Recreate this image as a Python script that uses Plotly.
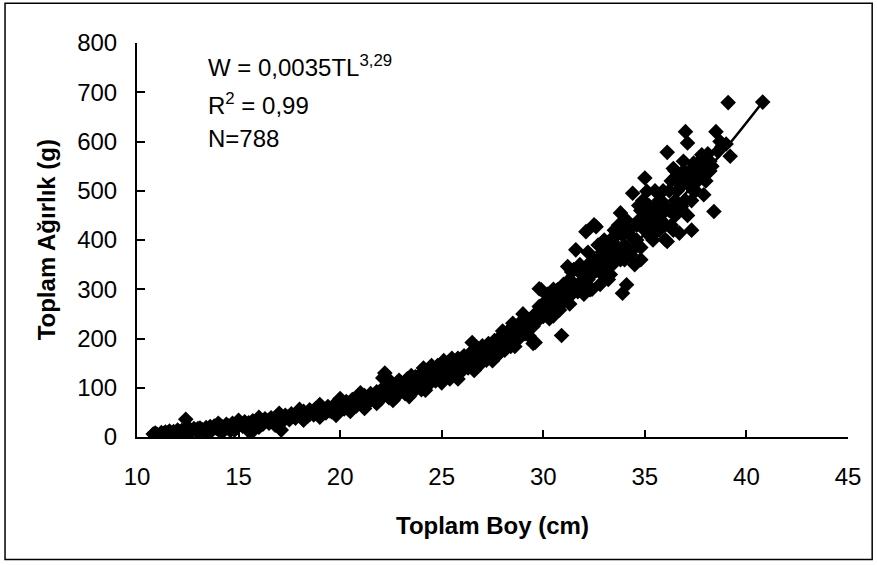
import plotly.graph_objects as go

# Scatter data: total length (cm) and total weight (g)
length_cm = [
    10.8, 10.9, 11.0, 11.1, 11.2, 11.3, 11.4, 11.5, 11.6, 11.7, 11.8, 11.9, 12.0, 12.1, 12.2, 12.3,
    12.4, 12.4, 12.5, 12.6, 12.7, 12.8, 12.9, 13.0, 13.1, 13.2, 13.3, 13.4, 13.5, 13.6, 13.7, 13.8,
    13.9, 14.0, 14.1, 14.2, 14.3, 14.4, 14.5, 14.6, 14.7, 14.8, 14.9, 15.0, 15.1, 15.2, 15.3, 15.4,
    15.5, 15.6, 15.7, 15.8, 15.9, 16.0, 16.1, 16.2, 16.3, 16.4, 16.5, 16.6, 16.7, 16.8, 16.9, 17.0,
    17.1, 17.2, 17.3, 17.4, 17.5, 17.6, 17.7, 17.8, 17.9, 18.0, 18.1, 18.2, 18.3, 18.4, 18.5, 18.6,
    18.7, 18.8, 18.9, 19.0, 19.1, 19.2, 19.3, 19.4, 19.5, 19.6, 19.7, 19.8, 19.9, 20.0, 20.1, 20.2,
    20.3, 20.4, 20.5, 20.6, 20.7, 20.8, 20.9, 21.0, 21.1, 21.2, 21.3, 21.4, 21.5, 21.6, 21.7, 21.8,
    21.9, 22.0, 22.1, 22.2, 22.2, 22.3, 22.4, 22.5, 22.6, 22.7, 22.8, 22.9, 23.0, 23.1, 23.2, 23.3,
    23.4, 23.5, 23.6, 23.7, 23.8, 23.9, 24.0, 24.1, 24.2, 24.3, 24.4, 24.5, 24.6, 24.7, 24.8, 24.9,
    25.0, 25.1, 25.2, 25.3, 25.4, 25.5, 25.6, 25.7, 25.8, 25.9, 26.0, 26.1, 26.2, 26.3, 26.4, 26.5,
    26.5, 26.6, 26.7, 26.8, 26.9, 27.0, 27.1, 27.2, 27.3, 27.4, 27.5, 27.6, 27.7, 27.8, 27.9, 28.0,
    28.1, 28.2, 28.3, 28.4, 28.5, 28.6, 28.6, 28.7, 28.8, 28.9, 29.0, 29.1, 29.2, 29.3, 29.5, 29.6,
    29.6, 29.7, 29.8, 29.9, 29.9, 30.0, 30.1, 30.2, 30.3, 30.4, 30.5, 30.6, 30.7, 30.8, 30.9, 31.0,
    31.1, 31.2, 31.3, 31.4, 31.5, 31.6, 31.7, 31.8, 31.9, 32.0, 32.1, 32.2, 32.3, 32.4, 32.5, 32.6,
    32.6, 32.7, 32.8, 32.9, 33.0, 33.1, 33.2, 33.3, 33.4, 33.5, 33.6, 33.7, 33.8, 33.9, 34.0, 34.1,
    34.2, 34.3, 34.4, 34.5, 34.6, 34.7, 34.8, 34.9, 35.0, 35.1, 35.2, 35.3, 35.4, 35.5, 35.6, 35.7,
    35.8, 35.9, 36.0, 36.1, 36.1, 36.2, 36.3, 36.4, 36.5, 36.6, 36.7, 36.8, 36.9, 37.0, 37.1, 37.2,
    37.3, 37.4, 37.5, 37.6, 37.8, 37.9, 38.0, 38.2, 38.4, 38.5, 38.6, 38.8, 39.0, 39.1, 39.2, 40.8,
    32.0, 32.2, 32.4, 32.8, 33.0, 33.2, 33.4, 33.5, 33.6, 33.8, 34.0, 34.2, 34.4, 34.6, 34.8, 35.0,
    35.2, 35.4, 35.6, 35.8, 36.0, 36.2, 36.4, 36.6, 36.8, 37.0, 37.2, 37.4, 37.6, 37.8, 38.0, 38.2,
    36.5, 34.8, 33.0, 31.0, 31.5, 30.5, 30.0, 29.0, 28.0, 27.0, 25.0, 24.0, 23.0,
    12.0, 12.5, 13.0, 13.5, 14.0, 14.5, 15.0, 15.5, 16.0, 16.5, 17.0, 17.5, 18.0, 18.5, 19.0, 19.5,
    20.0, 20.5, 21.0, 21.5, 22.0, 22.5, 23.0, 23.5, 24.0, 24.5, 25.0, 25.5, 26.0, 26.5, 27.0, 27.5,
    28.0, 28.5, 29.0, 29.5, 30.0, 30.5, 31.0, 31.5, 32.0, 32.5, 33.0, 33.5, 34.0, 34.5, 35.0, 35.5,
    36.0, 36.5, 37.0, 37.5, 38.0,
    29.3, 29.8, 30.2, 30.8, 31.3, 31.8, 32.2, 32.7, 33.3, 33.7, 34.1, 34.4, 34.7, 35.1, 35.5, 35.9,
    36.3, 36.7, 37.1, 37.3, 37.5, 37.7, 38.1, 38.3, 38.7, 36.9, 36.4, 35.7, 34.9, 33.9, 33.1, 32.9,
    32.3, 31.9, 31.4, 30.9, 30.3, 29.4, 28.8, 28.3, 27.8, 27.3, 26.8, 26.3, 25.8, 25.3, 24.8, 24.3,
    23.8, 23.3, 22.8, 22.3,
    13.5, 14.2, 14.8, 16.0, 16.8, 18.2, 19.0, 19.8, 20.5, 21.2, 21.8, 22.6, 23.4, 24.2, 25.0, 25.8,
    26.6, 14.0, 15.0, 16.0, 17.0, 18.0, 19.0, 20.0, 21.0, 22.5, 23.5, 24.5, 25.5,
]
weight_g = [
    6, 8, 5, 2, 9, 7, 10, 8, 12, 6, 11, 9, 14, 10, 13, 8,
    36, 15, 11, 16, 12, 17, 14, 10, 18, 15, 12, 19, 16, 21, 14, 22,
    18, 15, 24, 20, 17, 26, 22, 13, 28, 24, 19, 30, 26, 22, 31, 27,
    20, 8, 33, 29, 24, 35, 31, 26, 37, 33, 28, 39, 35, 30, 42, 37,
    14, 33, 44, 40, 35, 47, 42, 38, 50, 45, 40, 52, 47, 42, 55, 50,
    45, 58, 52, 47, 60, 55, 49, 62, 57, 51, 65, 60, 54, 68, 63, 57,
    72, 66, 60, 76, 70, 63, 80, 74, 67, 84, 77, 70, 88, 81, 73, 92,
    85, 77, 120, 130, 96, 88, 80, 112, 100, 92, 84, 115, 105, 96, 88, 118,
    108, 99, 92, 122, 112, 104, 96, 140, 128, 118, 108, 134, 124, 114, 145, 132,
    122, 155, 140, 128, 118, 150, 138, 126, 160, 146, 134, 165, 152, 140, 170, 192,
    158, 137, 175, 162, 148, 185, 170, 156, 190, 176, 155, 196, 182, 168, 204, 190,
    176, 212, 198, 184, 231, 184, 205, 220, 200, 217, 228, 210, 240, 222, 190, 192,
    250, 235, 301, 299, 260, 245, 275, 251, 262, 285, 246, 270, 299, 258, 206, 280,
    300, 346, 270, 290, 310, 380, 295, 313, 330, 290, 417, 320, 299, 345, 431, 339,
    427, 360, 310, 375, 340, 355, 385, 330, 397, 360, 410, 375, 455, 292, 390, 309,
    420, 370, 495, 350, 400, 440, 385, 425, 526, 499, 410, 460, 448, 430, 470, 480,
    440, 500, 401, 578, 397, 460, 520, 455, 480, 500, 414, 468, 540, 620, 597, 510,
    480, 556, 530, 520, 573, 492, 540, 560, 458, 620, 580, 590, 595, 679, 570, 680,
    330, 350, 300, 345, 365, 320, 350, 420, 385, 360, 420, 380, 405, 430, 360, 450,
    470, 400, 420, 480, 430, 500, 420, 470, 510, 480, 540, 500, 550, 530, 560, 540,
    540, 460, 400, 310, 340, 300, 270, 250, 215, 160, 145, 130, 95,
    9, 14, 17, 13, 22, 18, 23, 29, 28, 34, 41, 39, 49, 46, 57, 53,
    62, 70, 80, 75, 95, 86, 110, 104, 125, 118, 130, 142, 160, 148, 178, 185,
    205, 210, 235, 225, 255, 275, 290, 295, 310, 360, 350, 370, 360, 400, 420, 455,
    470, 450, 520, 545, 520,
    205, 265, 290, 300, 320, 350, 375, 390, 400, 430, 440, 380, 470, 440, 500, 455,
    430, 530, 450, 420, 500, 560, 575, 550, 600, 560, 545, 420, 480, 410, 370, 330,
    330, 300, 335, 270, 240, 240, 230, 215, 190, 170, 175, 160, 150, 138, 125, 125,
    115, 100, 95, 100,
    8, 10, 14, 20, 24, 34, 40, 44, 52, 58, 68, 74, 82, 95, 110, 118,
    135, 28, 34, 40, 48, 56, 66, 78, 90, 110, 125, 145, 160,
]

# Power trend line, read along the centre of the band and its visible end
trend_x = [10.8, 13, 16, 19, 22, 25, 28, 31, 34, 37, 39, 40.8]
trend_y = [9, 16, 31, 55, 89, 136, 197, 276, 374, 494, 587, 680]

x_ticks = [10, 15, 20, 25, 30, 35, 40, 45]
y_ticks = [0, 100, 200, 300, 400, 500, 600, 700, 800]

FONT = "Liberation Sans, Arial, sans-serif"

fig = go.Figure()
fig.add_trace(go.Scatter(
    x=length_cm, y=weight_g, mode="markers",
    marker=dict(symbol="diamond", size=12, color="black", line=dict(width=0)),
    showlegend=False, hoverinfo="skip",
))
fig.add_trace(go.Scatter(
    x=trend_x, y=trend_y, mode="lines", line=dict(color="black", width=2.5, shape="spline"),
    showlegend=False, hoverinfo="skip",
))

axis_common = dict(
    showgrid=False, zeroline=False, showline=True, linecolor="black", linewidth=2,
    ticks="inside", tickcolor="black", tickwidth=1.5,
    tickfont=dict(family=FONT, size=24, color="black"),
)

fig.update_xaxes(range=[10, 45], tickvals=x_ticks, ticklen=7, ticklabelstandoff=17, **axis_common)
fig.update_yaxes(range=[0, 800], tickvals=y_ticks, ticklen=8, ticklabelstandoff=13, **axis_common)

# plot area: x 136.6..848.3 px, y 43.3..437 px
L, R, T, B = 136.6, 848.3, 43.3, 437.0
PW, PH = R - L, B - T

def px(xp):
    return (xp - L) / PW

def py(yp):
    return (B - yp) / PH

annotations = [
    dict(text="W = 0,0035TL<sup>3,29</sup>", x=px(206), y=py(66), xanchor="left", yanchor="middle"),
    dict(text="R<sup>2</sup> = 0,99", x=px(206), y=py(104), xanchor="left", yanchor="middle"),
    dict(text="N=788", x=px(206), y=py(139), xanchor="left", yanchor="middle"),
    dict(text="<b>Toplam Boy (cm)</b>", x=px(492), y=py(525), xanchor="center", yanchor="middle"),
    dict(text="<b>Toplam Ağırlık (g)</b>", x=px(46), y=py(240), xanchor="center", yanchor="middle",
         textangle=-90),
]
for a in annotations:
    a.update(xref="paper", yref="paper", showarrow=False,
             font=dict(family=FONT, size=24, color="black"))

fig.update_layout(
    width=877, height=565,
    margin=dict(l=L, r=877 - R, t=T, b=565 - B, pad=0),
    paper_bgcolor="white", plot_bgcolor="white",
    annotations=annotations,
    shapes=[dict(type="rect", xref="paper", yref="paper",
                 x0=px(4.5), x1=px(872.5), y0=py(559.5), y1=py(3.5),
                 line=dict(color="black", width=1.5), fillcolor="rgba(0,0,0,0)", layer="below")],
)

fig.write_html("out.html")
